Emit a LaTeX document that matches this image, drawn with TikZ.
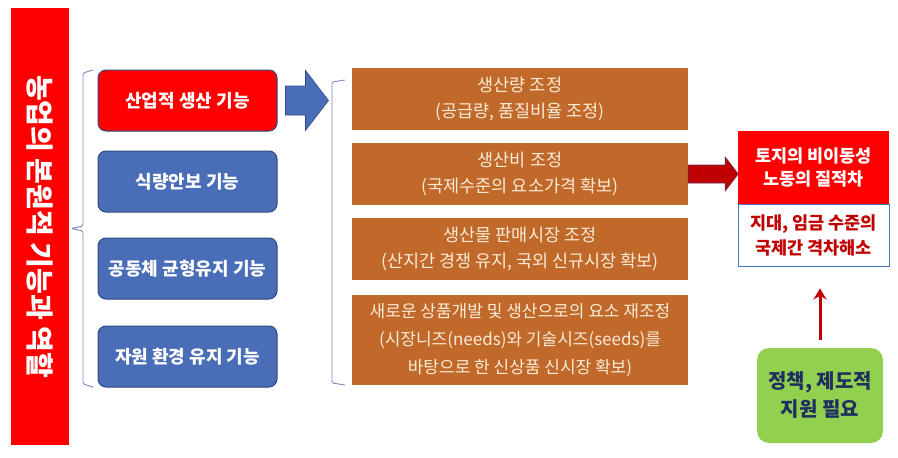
\documentclass[tikz,border=0pt]{standalone}
\usepackage{fontspec}
\setmainfont{Noto Sans CJK KR}
\usetikzlibrary{arrows.meta}

\definecolor{barred}{HTML}{FF0000}
\definecolor{funcblue}{HTML}{4A6DB8}
\definecolor{funcline}{HTML}{2F4A7F}
\definecolor{taskbrown}{HTML}{C0692B}
\definecolor{taskcream}{HTML}{FBEBD5}
\definecolor{darkred}{HTML}{C00000}
\definecolor{accblue}{HTML}{4472C4}
\definecolor{leaf}{HTML}{92D050}
\definecolor{navy}{HTML}{1F2F5F}
\definecolor{bracecol}{HTML}{7A86B8}

\tikzset{
  sidebar/.style={fill=barred, text=white, rotate=-90, minimum width=437pt,
    minimum height=58pt, inner sep=0pt, font=\bfseries\fontsize{28}{30}\selectfont},
  funcbox/.style={draw=funcline, line width=1pt, rounded corners=8pt, fill=funcblue,
    text=white, minimum width=179pt, minimum height=61pt, inner sep=0pt,
    font=\bfseries\fontsize{18}{20}\selectfont},
  taskbox/.style={fill=taskbrown, text=taskcream, minimum width=336pt,
    minimum height=62pt, inner sep=0pt, align=center, font=\fontsize{17.5}{26}\selectfont},
  causebox/.style={fill=barred, text=white, minimum width=151pt, minimum height=73pt,
    inner sep=0pt, align=center, font=\bfseries\fontsize{17.5}{23}\selectfont},
  goalbox/.style={draw=accblue, line width=0.8pt, fill=white, text=darkred,
    minimum width=151pt, minimum height=62pt, inner sep=0pt, align=center,
    font=\bfseries\fontsize{17.5}{25}\selectfont},
  policybox/.style={fill=leaf, rounded corners=12pt, text=navy, minimum width=126pt,
    minimum height=95pt, inner sep=0pt, align=center, font=\bfseries\fontsize{20}{28}\selectfont},
  sidebrace/.style={draw=bracecol, line width=0.9pt, rounded corners=1.5pt},
  bluearrow/.style={fill=funcblue, draw=funcline, line width=0.6pt},
  redarrow/.style={fill=darkred, draw=funcline!60!darkred, line width=0.6pt},
  uparrow/.style={draw=darkred, line width=3pt, -{Stealth[length=11pt,width=13pt]},
    shorten <=8pt, shorten >=22pt}
}

\begin{document}
\begin{tikzpicture}[x=1pt,y=-1pt]
  \useasboundingbox (0,0) rectangle (898,458);
  % left title bar
  \node[sidebar] (role) at (40,226.5) {농업의 본원적 기능과 역할};
  \draw[sidebrace] (93,70) -- (83,73) -- (83,226) -- (71,228.5) -- (83,231)
    -- (83,384) -- (93,387);
  % functions
  \node[funcbox, fill=barred] (prod) at (187.5,100.5) {산업적 생산 기능};
  \node[funcbox] (food) at (187.5,181.5) {식량안보 기능};
  \node[funcbox] (comm) at (187.5,268.5) {공동체 균형유지 기능};
  \node[funcbox] (env) at (187.5,356.5) {자원 환경 유지 기능};
  \draw[bluearrow] (prod.east) ++(8,-14.5) -- ++(20,0) -- ++(0,-15.5) -- ++(23,30)
    -- ++(-23,30) -- ++(0,-15.5) -- ++(-20,0) -- cycle;
  % adjustments
  \draw[sidebrace] (345,80) -- (332,82) -- (332,383) -- (345,385);
  \node[taskbox] (qty) at (520,99) {생산량 조정\\(공급량, 품질비율 조정)};
  \node[taskbox] (cost) at (520,174) {생산비 조정\\(국제수준의 요소가격 확보)};
  \node[taskbox] (mkt) at (520,249) {생산물 판매시장 조정\\(산지간 경쟁 유지, 국외 신규시장 확보)};
  \node[taskbox, minimum height=90pt, font=\fontsize{17}{28}\selectfont] (newp) at (520,340)
    {새로운 상품개발 및 생산으로의 요소 재조정\\(시장니즈(needs)와 기술시즈(seeds)를\\바탕으로 한 신상품 신시장 확보)};
  % conditions
  \node[causebox] (immob) at (813.5,167.5) {토지의 비이동성\\노동의 질적차};
  \node[goalbox] (gap) at (813.5,235) {지대, 임금 수준의\\국제간 격차해소};
  \draw[redarrow] (cost.east) ++(0,-9) -- ++(37,0) -- ++(0,-8) -- ++(13,17)
    -- ++(-13,17) -- ++(0,-8) -- ++(-37,0) -- cycle;
  \node[policybox] (policy) at (820,395.5) {정책, 제도적\\지원 필요};
  \draw[uparrow] (policy.north) -- (policy.north |- gap.south);
\end{tikzpicture}
\end{document}
